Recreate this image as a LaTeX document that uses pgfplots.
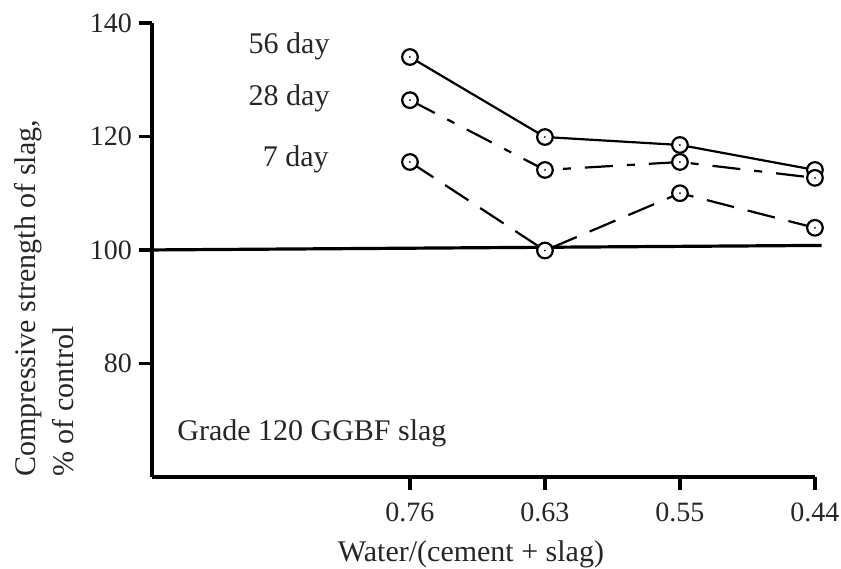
\documentclass[border=0pt]{standalone}
\usepackage{pgfplots}
\pgfplotsset{compat=1.18}
\usepackage{fontspec}
\setmainfont{Liberation Serif}

\pgfdeclareplotmark{cdot}{%
  \pgfpathcircle{\pgfpointorigin}{\pgfplotmarksize}%
  \pgfusepathqfillstroke
  \begin{pgfscope}%
  \pgfsetfillcolor{black}%
  \pgfpathcircle{\pgfpointorigin}{0.5pt}%
  \pgfusepathqfill
  \end{pgfscope}%
}

\begin{document}
\begin{tikzpicture}
\begin{axis}[
  scale only axis,
  width=331.5pt, height=227pt,
  xmin=-1.911, xmax=3, ymin=60, ymax=140,
  axis x line=bottom, axis y line=left,
  axis line style={line width=1.6pt, -},
  every tick/.style={line width=1.6pt, black},
  major tick length=6.5pt,
  tick align=outside,
  xtick={0,1,2,3}, xticklabels={0.76,0.63,0.55,0.44},
  ytick={80,100,120,140},
  /pgf/number format/assume math mode=true,
  ticklabel style={font=\fontsize{14}{16}\selectfont, text=black!85},
  xticklabel style={yshift=-3pt},
  clip=false,
]
\addplot[line width=1.6pt, black] coordinates {(-1.911,100) (3.05,100.8)};

\addplot[line width=1.1pt, black, mark=cdot, mark size=3.9pt,
  mark options={solid, fill=white, line width=1.1pt}]
  coordinates {(0,134.0) (1,119.9) (2,118.5) (3,114.1)};
\addplot[line width=1.1pt, black, dash pattern=on 14pt off 7pt on 4pt off 7pt,
  mark=cdot, mark size=3.9pt, mark options={solid, fill=white, line width=1.1pt}]
  coordinates {(0,126.4) (1,114.1) (2,115.5) (3,112.7)};
\addplot[line width=1.1pt, black, dash pattern=on 14pt off 7pt,
  mark=cdot, mark size=3.9pt, mark options={solid, fill=white, line width=1.1pt}]
  coordinates {(0,115.5) (1,99.9) (2,110.0) (3,103.9)};

\begin{scope}[every node/.style={inner sep=0pt, text=black!85, font=\fontsize{15}{18}\selectfont}]
\node[anchor=east] at (axis cs:-0.593,135.8) {56 day};
\node[anchor=east] at (axis cs:-0.593,126.8) {28 day};
\node[anchor=east] at (axis cs:-0.6,116.0) {7 day};
\node[anchor=west] at (axis cs:-1.726,67.75) {Grade 120 GGBF slag};
\node[anchor=north] at (axis cs:0.452,48.9) {Water/(cement + slag)};
\node[anchor=north west, rotate=90, align=left, font=\fontsize{15}{19}\selectfont]
  at (axis cs:-2.93,60) {Compressive strength of slag,\\\% of control};
\end{scope}

\coordinate (bl) at (axis cs:-3.037,43.79);
\coordinate (tr) at (axis cs:3.193,144.05);
\end{axis}
\pgfresetboundingbox
\path[use as bounding box] (bl) rectangle (tr);
\end{tikzpicture}
\end{document}
